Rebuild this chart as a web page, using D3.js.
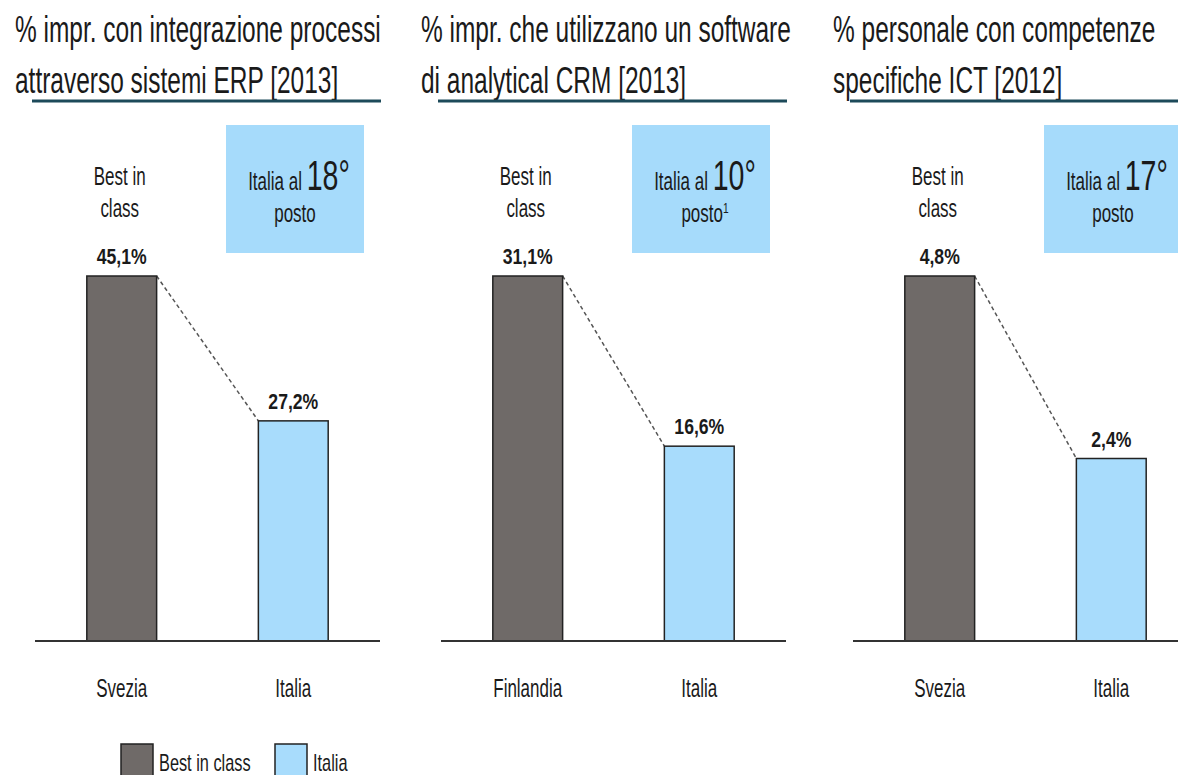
<!DOCTYPE html>
<html>
<head>
<meta charset="utf-8">
<script src="https://cdn.jsdelivr.net/npm/d3@7"></script>
<style>
  body { margin: 0; background: #fff; }
  svg { display: block; }
  text { font-family: "Liberation Sans", Arial, sans-serif; fill: #1a1a1a; }
</style>
</head>
<body>
<div class="chart"></div>
<script>
const width = 1178, height = 775;

// data
const titles = [
    ["% impr. con integrazione processi", "attraverso sistemi ERP [2013]"],
    ["% impr. che utilizzano un software", "di analytical CRM [2013]"],
    ["% personale con competenze", "specifiche ICT [2012]"]
];
const bestCountries = ["Svezia", "Finlandia", "Svezia"];
const bestValues = [45.1, 31.1, 4.8];
const italiaValues = [27.2, 16.6, 2.4];
const italiaRank = [18, 10, 17];
const rankNote = ["", "1", ""];
const legendLabels = ["Best in class", "Italia"];

const panelLeft = [35, 441, 853];
const panelWidth = 345;
const baseY = 641, topY = 276;
const grey = "#6f6a68", blue = "#a8dcfc";
const sx = 0.68; // text is drawn condensed

const it = d3.formatLocale({decimal: ",", thousands: ".", grouping: [3], currency: ["", "€"]});
const fmt = d => it.format(".1f")(d) + "%";

const svg = d3.select('.chart')
    .append('svg')
    .attr('width', width)
    .attr('height', height);

// condensed text helper
function label(g, x, y, str, size, opts = {}) {
    return g.append("text")
        .attr("transform", "translate(" + x + "," + y + ") scale(" + (opts.sx || sx) + ",1)")
        .attr("text-anchor", opts.anchor || "middle")
        .attr("font-size", size)
        .attr("font-weight", opts.bold ? "bold" : null)
        .text(str);
}

titles.forEach((t, i) => {
    const x0 = panelLeft[i];
    const g = svg.append("g").attr("class", "panel");
    const names = [bestCountries[i], "Italia"];
    const vals = [bestValues[i], italiaValues[i]];

    const xScale = d3.scaleBand()
        .domain(names)
        .range([x0, x0 + panelWidth])
        .paddingInner(0.593)
        .paddingOuter(0.302);

    const yScale = d3.scaleLinear()
        .domain([0, bestValues[i]])
        .range([baseY, topY]);

    // title + underline
    label(g, x0 - 20, 42, t[0], 36, {anchor: "start"});
    label(g, x0 - 20, 93, t[1], 36, {anchor: "start"});
    g.append("line")
        .attr("x1", x0 - 3).attr("x2", x0 + 346)
        .attr("y1", 101).attr("y2", 101)
        .attr("stroke", "#1d4a5a")
        .attr("stroke-width", 3);

    // rank box
    const bx = x0 + 191, bw = 138;
    g.append("rect")
        .attr("x", bx).attr("y", 125)
        .attr("width", bw).attr("height", 128)
        .attr("fill", "#a6dbfb");
    const rk = g.append("text")
        .attr("transform", "translate(" + (bx + bw / 2 + 4) + ",190) scale(" + sx + ",1)")
        .attr("text-anchor", "middle");
    rk.append("tspan").attr("font-size", 25).text("Italia al ");
    rk.append("tspan").attr("font-size", 42).text(italiaRank[i] + "°");
    const ps = g.append("text")
        .attr("transform", "translate(" + (bx + bw / 2 + (rankNote[i] ? 4 : 0)) + ",222) scale(" + sx + ",1)")
        .attr("text-anchor", "middle")
        .attr("font-size", 25);
    ps.append("tspan").text("posto");
    if (rankNote[i]) ps.append("tspan").attr("font-size", 15).attr("dy", -9).text(rankNote[i]);

    // best in class label
    const bc = xScale(names[0]) + xScale.bandwidth() / 2;
    label(g, bc - 2, 185, "Best in", 25);
    label(g, bc - 2, 217, "class", 25);

    // dashed connector
    g.append("line")
        .attr("x1", xScale(names[0]) + xScale.bandwidth())
        .attr("y1", yScale(vals[0]))
        .attr("x2", xScale(names[1]))
        .attr("y2", yScale(vals[1]))
        .attr("stroke", "#555")
        .attr("stroke-width", 1.5)
        .attr("stroke-dasharray", "4,3");

    // bars
    g.selectAll(".bar")
        .data(names)
        .enter()
        .append("rect")
        .attr("class", "bar")
        .attr("x", d => xScale(d))
        .attr("y", (d, j) => yScale(vals[j]))
        .attr("width", xScale.bandwidth())
        .attr("height", (d, j) => baseY - yScale(vals[j]))
        .attr("fill", (d, j) => j === 0 ? grey : blue)
        .attr("stroke", "#222")
        .attr("stroke-width", 1.5);

    // value labels
    names.forEach((d, j) => {
        label(g, xScale(d) + xScale.bandwidth() / 2, yScale(vals[j]) - 12, fmt(vals[j]), 22, {bold: true, sx: 0.8});
        label(g, xScale(d) + xScale.bandwidth() / 2, 697, d, 25);
    });

    // baseline
    g.append("line")
        .attr("x1", x0).attr("x2", x0 + panelWidth)
        .attr("y1", baseY).attr("y2", baseY)
        .attr("stroke", "#333")
        .attr("stroke-width", 2);
});

// legend
const legend = svg.append("g").attr("class", "legend");
const legX = [121, 275];
legendLabels.forEach((l, i) => {
    legend.append("rect")
        .attr("x", legX[i]).attr("y", 744)
        .attr("width", 32).attr("height", 34)
        .attr("fill", i === 0 ? grey : blue)
        .attr("stroke", "#222")
        .attr("stroke-width", 1.5);
    label(legend, legX[i] + 38, 771, l, 24, {anchor: "start"});
});
</script>
</body>
</html>
